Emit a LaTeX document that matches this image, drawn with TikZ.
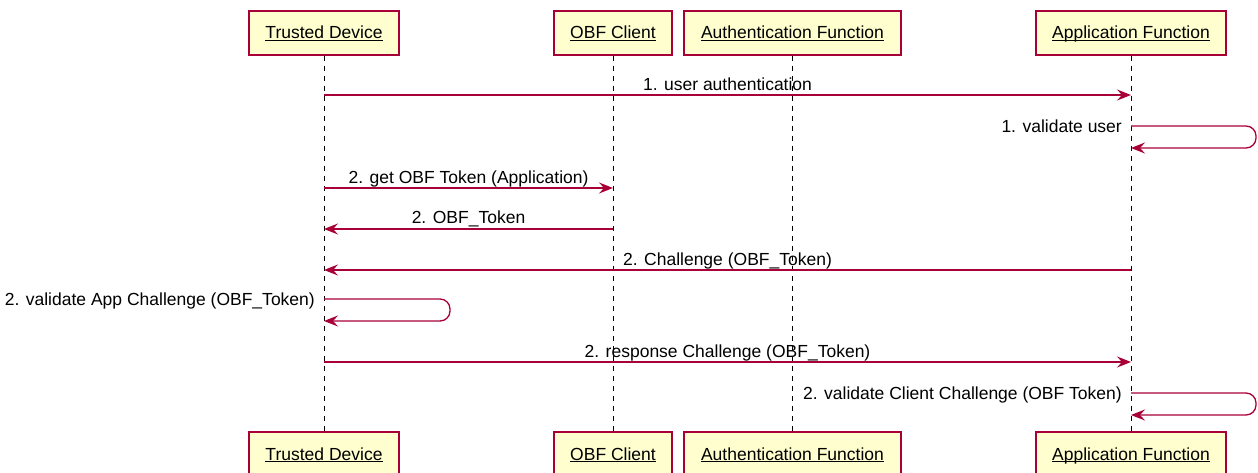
\documentclass[tikz,border=0pt]{standalone}
\usepackage{fontspec}
\setmainfont{Liberation Sans}
\usetikzlibrary{arrows.meta,calc}
\definecolor{umlred}{HTML}{A80036}
\definecolor{umlfill}{HTML}{FEFECE}
% underlined participant name, underline at a fixed depth
\newcommand{\actorlabel}[1]{\underline{\raisebox{0pt}[\height][0pt]{#1}}}
\begin{document}
\begin{tikzpicture}[x=1pt,y=-1pt,
  actor/.style={draw=umlred,fill=umlfill,line width=1.5pt,minimum height=44pt,
    inner sep=0pt,text height=15pt,text depth=3pt,font=\fontsize{17.5}{20}\selectfont},
  life/.style={black,line width=1pt,dash pattern=on 5pt off 5pt},
  msg/.style={umlred,line width=1.3pt,-{Stealth[length=14pt,width=11pt,inset=5pt]}},
  selfmsg/.style={msg,rounded corners=10pt},
  lbl/.style={text=black,font=\fontsize{17.5}{20}\selectfont,inner sep=0pt,anchor=base},
  lblr/.style={lbl,anchor=base east}]
\useasboundingbox (0,0) rectangle (1258,473);

% participants, top row
\node[actor,minimum width=150pt] (td)  at (324,33)   {\actorlabel{Trusted Device}};
\node[actor,minimum width=118pt] (obf) at (613,33)   {\actorlabel{OBF Client}};
\node[actor,minimum width=217pt] (auf) at (792.5,33) {\actorlabel{Authentication Function}};
\node[actor,minimum width=190pt] (apf) at (1131,33)  {\actorlabel{Application Function}};
% participants, bottom row
\node[actor,minimum width=150pt] (tdb)  at (324,454)   {\actorlabel{Trusted Device}};
\node[actor,minimum width=118pt] (obfb) at (613,454)   {\actorlabel{OBF Client}};
\node[actor,minimum width=217pt] (aufb) at (792.5,454) {\actorlabel{Authentication Function}};
\node[actor,minimum width=190pt] (apfb) at (1131,454)  {\actorlabel{Application Function}};

% lifelines
\draw[life] (td.south)  -- (tdb.north);
\draw[life] (obf.south) -- (obfb.north);
\draw[life] (auf.south) -- (aufb.north);
\draw[life] (apf.south) -- (apfb.north);

% message end points on the lifelines
\coordinate (m1a) at (td.south  |- 0,95);
\coordinate (m1b) at (apf.south |- 0,95);
\coordinate (s1a) at (apf.south |- 0,126);
\coordinate (s1b) at (apf.south |- 0,148);
\coordinate (m2a) at (td.south  |- 0,188);
\coordinate (m2b) at (obf.south |- 0,188);
\coordinate (m3a) at (obf.south |- 0,229);
\coordinate (m3b) at (td.south  |- 0,229);
\coordinate (m4a) at (apf.south |- 0,270);
\coordinate (m4b) at (td.south  |- 0,270);
\coordinate (s2a) at (td.south  |- 0,299);
\coordinate (s2b) at (td.south  |- 0,321);
\coordinate (m5a) at (td.south  |- 0,362);
\coordinate (m5b) at (apf.south |- 0,362);
\coordinate (s3a) at (apf.south |- 0,393);
\coordinate (s3b) at (apf.south |- 0,415);

% messages
\draw[msg] (m1a) -- node[lbl,yshift=4.5pt] (l1) {1. user authentication} (m1b);
\draw[selfmsg] (s1a) -- ++(125,0) |- (s1b);
\node[lblr] (l1s) at ($(s1a)+(-9,6.5)$) {1. validate user};
\draw[msg] (m2a) -- node[lbl,yshift=4.5pt] (l2) {2. get OBF Token (Application)} (m2b);
\draw[msg] (m3a) -- node[lbl,yshift=5pt] (l3) {2. OBF\_Token} (m3b);
\draw[msg] (m4a) -- node[lbl,yshift=5pt] (l4) {2. Challenge (OBF\_Token)} (m4b);
\draw[selfmsg] (s2a) -- ++(126,0) |- (s2b);
\node[lblr] (l2s) at ($(s2a)+(-9,6.5)$) {2. validate App Challenge (OBF\_Token)};
\draw[msg] (m5a) -- node[lbl,yshift=4.5pt] (l5) {2. response Challenge (OBF\_Token)} (m5b);
\draw[selfmsg] (s3a) -- ++(125,0) |- (s3b);
\node[lblr] (l3s) at ($(s3a)+(-9,6.5)$) {2. validate Client Challenge (OBF Token)};
\end{tikzpicture}
\end{document}
